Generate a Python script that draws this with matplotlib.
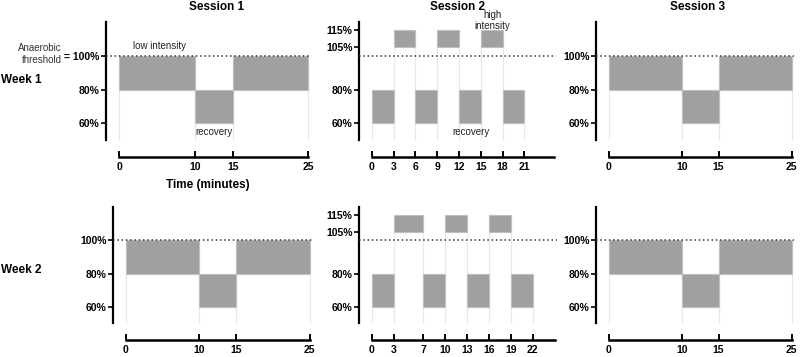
import numpy as np
import matplotlib.pyplot as plt

plt.rcParams['font.family'] = ['Liberation Sans', 'DejaVu Sans']

# Sessions 1 and 3 (same in both weeks)
s13_start = [0, 10, 15]
s13_end = [10, 15, 25]
s13_low = [80, 60, 80]
s13_high = [100, 80, 100]
s13_ticks = [0, 10, 15, 25]

# Session 2, week 1
s2w1_start = [0, 3, 6, 9, 12, 15, 18]
s2w1_end = [3, 6, 9, 12, 15, 18, 21]
s2_low = [60, 105, 60, 105, 60, 105, 60]
s2_high = [80, 115, 80, 115, 80, 115, 80]
s2w1_ticks = [0, 3, 6, 9, 12, 15, 18, 21]

# Session 2, week 2
s2w2_start = [0, 3, 7, 10, 13, 16, 19]
s2w2_end = [3, 7, 10, 13, 16, 19, 22]
s2w2_ticks = [0, 3, 7, 10, 13, 16, 19, 22]

yticks_s13 = [60, 80, 100]
yticks_s2 = [60, 80, 105, 115]

W, H = 800, 357
fig = plt.figure(figsize=(8, 3.57), dpi=100)


def rect(left, width, top, bottom):
    return [left / W, (H - bottom) / H, width / W, (bottom - top) / H]


def panel(r, start, end, low, high, xticks, yticks, ylabels):
    ax = fig.add_axes(r)
    start = np.array(start)
    end = np.array(end)
    low = np.array(low)
    high = np.array(high)
    # faint guide lines at each block edge
    for i in range(len(start)):
        ax.vlines([start[i], end[i]], 50, high[i], color='#e8e8e8', lw=0.8, zorder=1)
    ax.bar(start, high - low, width=end - start, bottom=low, align='edge',
           color='#a0a0a0', edgecolor='#c0c0c0', linewidth=0.8, zorder=2)
    ax.axhline(100, color='#333333', ls=(0, (1, 1.8)), lw=1.1, zorder=3)
    ax.set_xlim(-1.75, 25.3)
    ax.set_ylim(40, 120)
    for s in ['top', 'right']:
        ax.spines[s].set_visible(False)
    ax.spines['left'].set_bounds(50, 120)
    ax.spines['bottom'].set_bounds(0, 25)
    ax.spines['left'].set_linewidth(1.6)
    ax.spines['bottom'].set_linewidth(1.8)
    ax.set_xticks(xticks)
    ax.set_xticklabels([str(t) for t in xticks], fontsize=7.5, fontweight='bold')
    ax.set_yticks(yticks)
    ax.set_yticklabels(ylabels, fontsize=7.5, fontweight='bold')
    ax.tick_params(axis='x', direction='in', length=4, width=1.4, pad=3.5)
    ax.tick_params(axis='y', direction='out', length=3.5, width=1.2, pad=1.2)
    ax.patch.set_alpha(0)
    return ax


# Week 1
a11 = panel(rect(106, 204.5, 22, 157), s13_start, s13_end, s13_low, s13_high,
            s13_ticks, yticks_s13, ['60%', '80%', '= 100%'])
a12 = panel(rect(359, 196.7, 22, 157), s2w1_start, s2w1_end, s2_low, s2_high,
            s2w1_ticks, yticks_s2, ['60%', '80%', '105%', '115%'])
a13 = panel(rect(596, 198, 22, 157), s13_start, s13_end, s13_low, s13_high,
            s13_ticks, yticks_s13, ['60%', '80%', '100%'])

# Week 2
a21 = panel(rect(113, 199, 207, 340), s13_start, s13_end, s13_low, s13_high,
            s13_ticks, yticks_s13, ['60%', '80%', '100%'])
a22 = panel(rect(359, 198, 207, 340), s2w2_start, s2w2_end, s2_low, s2_high,
            s2w2_ticks, yticks_s2, ['60%', '80%', '105%', '115%'])
a23 = panel(rect(596, 198, 207, 340), s13_start, s13_end, s13_low, s13_high,
            s13_ticks, yticks_s13, ['60%', '80%', '100%'])

# annotations
a11.text(1.8, 103, 'low intensity', fontsize=7, ha='left', va='bottom', color='#222222')
a11.text(12.5, 55, 'recovery', fontsize=7, ha='center', va='center', color='#222222')
a12.text(16.6, 121, 'high\nintensity', fontsize=7, ha='center', va='center',
         color='#222222', linespacing=1.1, clip_on=False)
a12.text(13.7, 55, 'recovery', fontsize=7, ha='center', va='center', color='#222222')
a11.set_xlabel('Time (minutes)', fontsize=8.5, fontweight='bold', labelpad=5)

fig.text(217 / W, 1 - 7 / H, 'Session 1', fontsize=8.5, fontweight='bold', ha='center', va='center')
fig.text(457 / W, 1 - 7 / H, 'Session 2', fontsize=8.5, fontweight='bold', ha='center', va='center')
fig.text(698 / W, 1 - 7 / H, 'Session 3', fontsize=8.5, fontweight='bold', ha='center', va='center')
fig.text(1 / W, 1 - 80 / H, 'Week 1', fontsize=8.5, fontweight='bold', ha='left', va='center')
fig.text(1 / W, 1 - 270 / H, 'Week 2', fontsize=8.5, fontweight='bold', ha='left', va='center')
fig.text(62 / W, 1 - 54 / H, 'Anaerobic\nthreshold', fontsize=7, ha='right', va='center',
         color='#333333', linespacing=1.3)

fig.savefig('out.png', dpi=100)
